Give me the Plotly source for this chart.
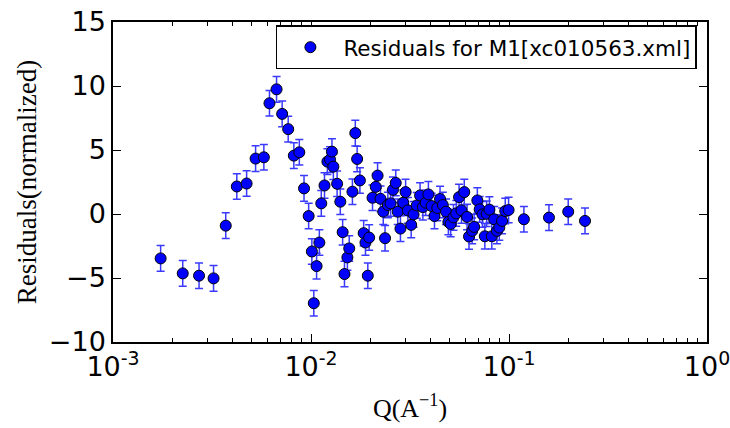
import plotly.graph_objects as go

q = [0.00174, 0.00225, 0.00272, 0.00322, 0.00371, 0.00422, 0.00473, 0.00525, 0.00578, 0.00617,
     0.0067, 0.00715, 0.00767, 0.00819, 0.00873, 0.00922, 0.00973, 0.0101, 0.01033, 0.01067,
     0.01102, 0.01127, 0.0117, 0.0121, 0.01248, 0.01276, 0.01297, 0.01355, 0.01406, 0.01445,
     0.01476, 0.01527, 0.0156, 0.01619, 0.01674, 0.0171, 0.01766, 0.01845, 0.01884, 0.01936,
     0.01967, 0.02045, 0.02124, 0.02169, 0.02244, 0.02317, 0.02366, 0.02444, 0.02524, 0.02594,
     0.02679, 0.02741, 0.0283, 0.02923, 0.03005, 0.03085, 0.03206, 0.03296, 0.0342, 0.03556,
     0.03673, 0.03794, 0.03917, 0.04064, 0.04204, 0.04342, 0.04485, 0.04632, 0.0481, 0.04941,
     0.05075, 0.05242, 0.05416, 0.05596, 0.05753, 0.05943, 0.0614, 0.06281, 0.06516, 0.06668,
     0.06919, 0.0711, 0.07345, 0.07551, 0.07713, 0.07964, 0.08186, 0.08414, 0.08691, 0.08933,
     0.09226, 0.09572, 0.09954, 0.1189, 0.1592, 0.1991, 0.2420]
resid = [-3.47, -4.64, -4.82, -5.03, -0.91, 2.15, 2.38, 4.33, 4.43, 8.65,
         9.74, 7.82, 6.63, 4.56, 4.82, 2.0, -0.16, -2.93, -6.97, -4.07,
         -2.23, 0.83, 2.23, 4.09, 4.25, 4.87, 3.70, 2.36, 0.96, -1.42,
         -4.69, -3.39, -2.69, 1.74, 6.32, 4.30, 2.62, -1.50, -2.23, -4.82,
         -1.84, 1.27, 2.12, 3.0, 1.19, 0.18, -1.89, 0.70, 0.83, 1.89,
         2.43, 0.18, -1.14, 0.88, 1.71, 0.28, -0.85, -0.03, 0.67, 1.45,
         0.54, 0.88, 1.53, 0.62, -0.16, 0.47, 1.17, 0.70, 0.18, -0.62,
         -0.78, -0.26, 0.05, 1.32, 0.28, 1.71, -0.23, -1.76, -1.32, -1.01,
         1.06, 0.36, -0.03, -1.74, 0.02, 0.34, -1.74, -0.41, -1.32, -1.06,
         -0.54, 0.23, 0.31, -0.41, -0.28, 0.18, -0.54]
err = [1.0] * len(q)

x_tickvals = [1e-3, 1e-2, 1e-1, 1]
x_ticktext = ["10<sup>-3</sup>", "10<sup>-2</sup>", "10<sup>-1</sup>", "10<sup>0</sup>"]
y_tickvals = [-10, -5, 0, 5, 10, 15]
y_ticktext = ["−10", "−5", "0", "5", "10", "15"]

fig = go.Figure()
fig.add_trace(go.Scatter(
    x=q, y=resid, mode="markers", name="Residuals for M1[xc010563.xml]",
    marker=dict(color="#0000ff", size=11, line=dict(color="black", width=1)),
    error_y=dict(type="data", array=err, visible=True, color="#3a3aff", thickness=1.5, width=4),
))

fig.update_layout(
    width=730, height=428,
    margin=dict(l=113, r=23, t=22, b=86),
    paper_bgcolor="white", plot_bgcolor="white",
    font=dict(family="DejaVu Sans", color="black", size=22),
    showlegend=True,
    legend=dict(x=0.983, y=0.99, xanchor="right", yanchor="top",
                bordercolor="black", borderwidth=1.5, bgcolor="white",
                font=dict(size=21.5, family="DejaVu Sans"), itemwidth=56),
    xaxis=dict(type="log", range=[-3, 0], tickvals=x_tickvals, ticktext=x_ticktext,
               showline=True, linecolor="black", linewidth=1.5, mirror="allticks",
               ticks="inside", ticklen=8, tickcolor="black", showgrid=False, zeroline=False,
               tickfont=dict(size=27, family="DejaVu Sans"), ticklabeloverflow="allow",
               automargin=False,
               minor=dict(ticks="inside", ticklen=4, tickcolor="black", dtick="D1", showgrid=False),
               title=dict(text="Q(A<sup>−1</sup>)", font=dict(family="Liberation Serif", size=26), standoff=18)),
    yaxis=dict(range=[-10, 15], tickvals=y_tickvals, ticktext=y_ticktext,
               showline=True, linecolor="black", linewidth=1.5, mirror="allticks",
               ticks="inside", ticklen=8, tickcolor="black", showgrid=False, zeroline=False,
               tickfont=dict(size=27, family="DejaVu Sans"), ticklabeloverflow="allow",
               automargin=False,
               title=dict(text="Residuals(normalized)", font=dict(family="Liberation Serif", size=27), standoff=4)),
)

fig.write_html("out.html")
